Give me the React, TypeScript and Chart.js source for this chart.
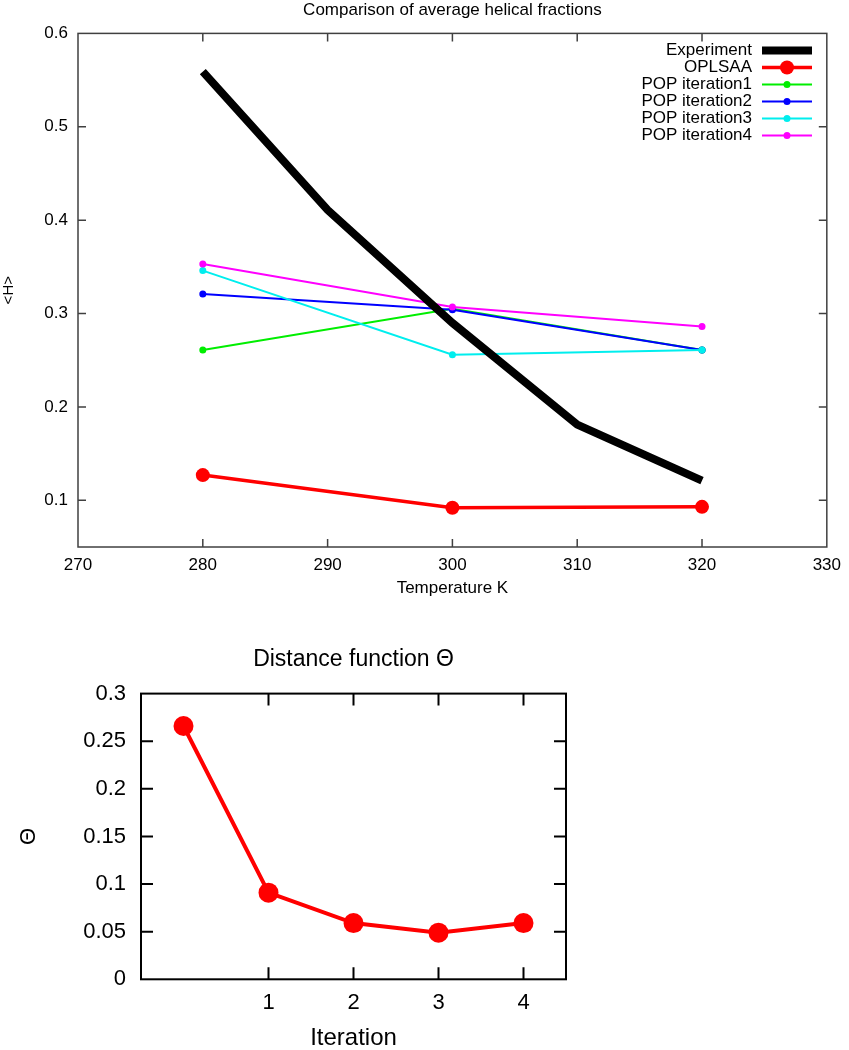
import React, { useEffect, useRef } from 'react';
import { Chart, registerables } from 'chart.js';

Chart.register(...registerables);

// ---------- Top chart data ----------
const expTemps = [280, 290, 300, 310, 320];
const experiment = [0.559, 0.411, 0.29, 0.181, 0.121];
const simTemps = [280, 300, 320];
const oplsaa = [0.127, 0.092, 0.093];
const pop1 = [0.261, 0.305, 0.261];
const pop2 = [0.321, 0.304, 0.261];
const pop3 = [0.346, 0.256, 0.261];
const pop4 = [0.353, 0.307, 0.286];
const seriesNames = ['Experiment', 'OPLSAA', 'POP iteration1', 'POP iteration2', 'POP iteration3', 'POP iteration4'];
const topXTicks = [270, 280, 290, 300, 310, 320, 330];
const topYTicks = [0.1, 0.2, 0.3, 0.4, 0.5, 0.6];

// ---------- Bottom chart data ----------
const iterations = [0, 1, 2, 3, 4];
const theta = [0.266, 0.091, 0.059, 0.049, 0.059];
const bottomXTicks = [1, 2, 3, 4];
const bottomYTicks = [0, 0.05, 0.1, 0.15, 0.2, 0.25, 0.3];

const FONT = "'Liberation Sans', Arial, Helvetica, sans-serif";

const pts = (xs: number[], ys: number[]) => xs.map((x, i) => ({ x, y: ys[i] }));

const framePlugin = {
  id: 'frame',
  afterDatasetsDraw(chart: any, _args: any, opts: any) {
    const { ctx, chartArea } = chart;
    const { left, right, top, bottom } = chartArea;
    const xs = chart.scales.x;
    const ys = chart.scales.y;
    const L = opts.tickLen || 8;
    ctx.save();
    ctx.strokeStyle = opts.color || '#000';
    ctx.lineWidth = opts.width || 1;
    ctx.strokeRect(left, top, right - left, bottom - top);
    ctx.beginPath();
    for (const t of xs.ticks) {
      const px = xs.getPixelForValue(t.value);
      if (px <= left + 1 || px >= right - 1) continue;
      ctx.moveTo(px, bottom);
      ctx.lineTo(px, bottom - L);
      ctx.moveTo(px, top);
      ctx.lineTo(px, top + L);
    }
    for (const t of ys.ticks) {
      const py = ys.getPixelForValue(t.value);
      if (py <= top + 1 || py >= bottom - 1) continue;
      ctx.moveTo(left, py);
      ctx.lineTo(left + L, py);
      ctx.moveTo(right, py);
      ctx.lineTo(right - L, py);
    }
    ctx.stroke();
    ctx.restore();
  },
};

const legendPlugin = {
  id: 'gpLegend',
  afterDraw(chart: any, _args: any, opts: any) {
    if (!opts || !opts.display) return;
    const { ctx } = chart;
    const textRight = opts.textRight;
    const x1 = opts.sampleLeft;
    const x2 = opts.sampleRight;
    ctx.save();
    ctx.font = `${opts.fontSize}px ${FONT}`;
    ctx.textAlign = 'right';
    ctx.textBaseline = 'middle';
    chart.data.datasets.forEach((ds: any, i: number) => {
      const y = opts.top + i * opts.rowHeight;
      ctx.fillStyle = '#000';
      ctx.fillText(ds.label, textRight, y);
      ctx.strokeStyle = ds.borderColor;
      ctx.lineWidth = ds.borderWidth;
      ctx.lineCap = 'butt';
      ctx.beginPath();
      ctx.moveTo(x1, y);
      ctx.lineTo(x2, y);
      ctx.stroke();
      if (ds.pointRadius > 0) {
        ctx.fillStyle = ds.borderColor;
        ctx.beginPath();
        ctx.arc((x1 + x2) / 2, y, ds.pointRadius, 0, Math.PI * 2);
        ctx.fill();
      }
    });
    ctx.restore();
  },
};

function TopChart() {
  const ref = useRef<HTMLCanvasElement>(null);
  useEffect(() => {
    const colors = ['#000000', '#ff0000', '#00ee00', '#0000ff', '#00eeee', '#ff00ff'];
    const widths = [8, 3.5, 2, 2, 2, 2];
    const radii = [0, 7, 3.5, 3.5, 3.5, 3.5];
    const orders = [0, 1, 5, 4, 3, 2];
    const series = [pts(expTemps, experiment), pts(simTemps, oplsaa), pts(simTemps, pop1), pts(simTemps, pop2), pts(simTemps, pop3), pts(simTemps, pop4)];
    const chart = new Chart(ref.current!, {
      type: 'line',
      data: {
        datasets: series.map((d, i) => ({
          label: seriesNames[i],
          data: d,
          borderColor: colors[i],
          backgroundColor: colors[i],
          pointBackgroundColor: colors[i],
          borderWidth: widths[i],
          pointRadius: radii[i],
          pointBorderWidth: 0,
          pointHoverRadius: radii[i],
          tension: 0,
          fill: false,
          order: orders[i],
        })),
      },
      options: {
        responsive: false,
        animation: false,
        events: [],
        layout: { padding: { top: 0, left: 0, right: 16, bottom: 0 } },
        plugins: {
          legend: { display: false },
          tooltip: { enabled: false },
          title: {
            display: true,
            fullSize: false,
            text: 'Comparison of average helical fractions',
            color: '#000',
            font: { family: FONT, size: 17, weight: 'normal' },
            padding: { top: 0, bottom: 13 },
          },
          frame: { color: '#404040', width: 1.5, tickLen: 8 },
          gpLegend: { display: true, textRight: 752, sampleLeft: 762, sampleRight: 812, top: 50.5, rowHeight: 17, fontSize: 17 },
        } as any,
        scales: {
          x: {
            type: 'linear',
            min: 270,
            max: 330,
            afterBuildTicks: (s: any) => { s.ticks = topXTicks.map((v) => ({ value: v })); },
            afterFit: (s: any) => { s.height = 63; },
            grid: { display: false, drawTicks: false },
            border: { display: false },
            ticks: { color: '#000', padding: 8, font: { family: FONT, size: 17 }, callback: (v: any) => String(v) },
            title: { display: true, text: 'Temperature K', color: '#000', font: { family: FONT, size: 17 }, padding: { top: 0, bottom: 11 } },
          },
          y: {
            type: 'linear',
            min: 0.05,
            max: 0.6,
            afterBuildTicks: (s: any) => { s.ticks = topYTicks.map((v) => ({ value: v })); },
            afterFit: (s: any) => { s.width = 78; },
            grid: { display: false, drawTicks: false },
            border: { display: false },
            ticks: { color: '#000', padding: 10, font: { family: FONT, size: 17 }, callback: (v: any) => Number(v).toFixed(1) },
            title: { display: true, text: '<H>', color: '#000', font: { family: FONT, size: 15 }, padding: { top: 0, bottom: 0 } },
          },
        },
      },
      plugins: [framePlugin, legendPlugin],
    });
    return () => chart.destroy();
  }, []);
  return <canvas ref={ref} width={849} height={610} style={{ position: 'absolute', left: 0, top: 0, width: 849, height: 610 }} />;
}

function BottomChart() {
  const ref = useRef<HTMLCanvasElement>(null);
  useEffect(() => {
    const chart = new Chart(ref.current!, {
      type: 'line',
      data: {
        datasets: [
          {
            label: 'Theta',
            data: pts(iterations, theta),
            borderColor: '#ff0000',
            backgroundColor: '#ff0000',
            pointBackgroundColor: '#ff0000',
            borderWidth: 4,
            pointRadius: 10,
            pointHoverRadius: 10,
            pointBorderWidth: 0,
            tension: 0,
            fill: false,
          },
        ],
      },
      options: {
        responsive: false,
        animation: false,
        events: [],
        layout: { padding: { top: 36, left: 0, right: 283, bottom: 0 } },
        plugins: {
          legend: { display: false },
          tooltip: { enabled: false },
          title: {
            display: true,
            fullSize: false,
            text: 'Distance function Θ',
            color: '#000',
            font: { family: FONT, size: 23, weight: 'normal' },
            padding: { top: 0, bottom: 20 },
          },
          frame: { color: '#000', width: 2, tickLen: 12 },
          gpLegend: { display: false },
        } as any,
        scales: {
          x: {
            type: 'linear',
            min: -0.5,
            max: 4.5,
            afterBuildTicks: (s: any) => { s.ticks = bottomXTicks.map((v) => ({ value: v })); },
            afterFit: (s: any) => { s.height = 90.7; },
            grid: { display: false, drawTicks: false },
            border: { display: false },
            ticks: { color: '#000', padding: 10.5, font: { family: FONT, size: 22 }, callback: (v: any) => String(v) },
            title: { display: true, text: 'Iteration', color: '#000', font: { family: FONT, size: 24 }, padding: { top: 0, bottom: 17.6 } },
          },
          y: {
            type: 'linear',
            min: 0,
            max: 0.3,
            afterBuildTicks: (s: any) => { s.ticks = bottomYTicks.map((v) => ({ value: v })); },
            afterFit: (s: any) => { s.width = 141; },
            grid: { display: false, drawTicks: false },
            border: { display: false },
            ticks: { color: '#000', padding: 15, font: { family: FONT, size: 22 }, callback: (v: any) => String(v) },
            title: { display: true, text: 'Θ', color: '#000', font: { family: FONT, size: 22 }, padding: { top: 16, bottom: 0 } },
          },
        },
      },
      plugins: [framePlugin],
    });
    return () => chart.destroy();
  }, []);
  return <canvas ref={ref} width={849} height={460} style={{ position: 'absolute', left: 0, top: 610, width: 849, height: 460 }} />;
}

export default function App() {
  return (
    <div style={{ position: 'absolute', left: 0, top: 0, width: 849, height: 1050, overflow: 'hidden', background: '#fff' }}>
      <TopChart />
      <BottomChart />
    </div>
  );
}
